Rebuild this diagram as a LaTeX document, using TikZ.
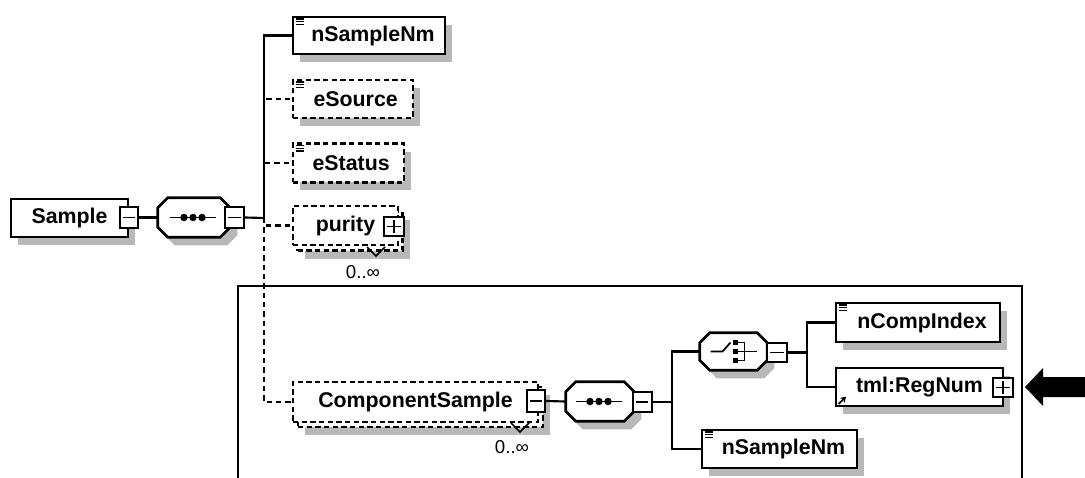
\documentclass[tikz,border=0pt]{standalone}
\usepackage{fontspec}
\newfontfamily\lbl{Liberation Sans}
\usetikzlibrary{shadows,arrows.meta,calc}
\tikzset{
  sh/.style={drop shadow={shadow xshift=5.25pt, shadow yshift=-6pt, fill=black!28, opacity=1}},
  elem/.style={draw, line width=2pt, fill=white, inner sep=0pt, font=\lbl\bfseries\fontsize{16}{19}\selectfont},
  optl/.style={elem, dash pattern=on 4pt off 2.5pt},
  octo/.style={inner sep=0pt},
  octline/.style={draw, line width=2pt, fill=white},
  octshadow/.style={fill=black!28},
  btn/.style={draw, fill=white, line width=1.5pt, inner sep=0pt, minimum width=14pt, minimum height=15pt},
  minusbtn/.style={btn, path picture={\draw[line width=1.2pt] ([xshift=2.5pt]path picture bounding box.west) -- ([xshift=-2.5pt]path picture bounding box.east);}},
  plusbtn/.style={btn, path picture={\draw[line width=1.2pt] ([xshift=2.5pt]path picture bounding box.west) -- ([xshift=-2.5pt]path picture bounding box.east);
     \draw[line width=1.2pt] ([yshift=-2.5pt]path picture bounding box.north) -- ([yshift=2.5pt]path picture bounding box.south);}},
  conn/.style={line width=1.6pt},
  dconn/.style={line width=1.6pt, dash pattern=on 4pt off 3pt},
  card/.style={inner sep=0pt, font=\lbl\fontsize{14}{16}\selectfont},
  icon/.style={line width=0.9pt},
}
\newcommand{\docicon}[1]{\foreach \d in {2.5,4.5,6.5}{\draw[icon] ([xshift=3pt,yshift=-\d pt]#1.north west) -- ++(6pt,0pt);}}
\newcommand{\octpath}[3]{($(#1.north west)+(10+#2,#3)$) -- ($(#1.north east)+(-10+#2,#3)$) -- ($(#1.north east)+(#2,10+#3)$) -- ($(#1.south east)+(#2,-10+#3)$) -- ($(#1.south east)+(-10+#2,#3)$) -- ($(#1.south west)+(10+#2,#3)$) -- ($(#1.south west)+(#2,-10+#3)$) -- ($(#1.north west)+(#2,10+#3)$) -- cycle}
\newcommand{\drawoct}[1]{\fill[octshadow] \octpath{#1}{7}{8}; \path[octline] \octpath{#1}{0}{0};}
\newcommand{\seqicon}[1]{%
  \draw[line width=1.3pt] ($(#1.center)+(-24,0)$) -- ($(#1.center)+(22,0)$);
  \foreach \dx in {-10,-1,8}{\fill ($(#1.center)+(\dx,0)$) circle (2.8pt);}}
\begin{document}
\begin{tikzpicture}[x=0.75pt,y=-0.75pt]
\useasboundingbox (0,0) rectangle (1085,478);

% frame
\draw[line width=1.6pt] (238,478) -- (238,286) -- (1022,286) -- (1022,478);

% --- top part
\node[elem, sh, minimum width=87.75pt, minimum height=28.5pt] (sample) at (69.5,218) {Sample\hspace{8pt}};
\node[minusbtn, minimum width=13.5pt, minimum height=15.75pt] (sbtn) at (129,217.5) {};
\node[octo, minimum width=54pt, minimum height=29.25pt] (seq1) at (194,217.5) {};
\drawoct{seq1}
\seqicon{seq1}
\node[minusbtn, minimum width=14.25pt, minimum height=15.75pt] (seq1btn) at (234.5,217.5) {};
\coordinate (j1) at (264,218);

\node[elem, sh, minimum width=114pt, minimum height=27.75pt] (nsn1) at (369,35.5) {\hspace{6pt}nSampleNm};
\docicon{nsn1}
\node[optl, sh, minimum width=90pt, minimum height=28.5pt] (esrc) at (353,99) {\hspace{4pt}eSource};
\docicon{esrc}
\node[optl, sh, minimum width=83.25pt, minimum height=29pt] (estat) at (348.5,163) {\hspace{4pt}eStatus};
\docicon{estat}

\node[optl, sh, minimum width=78.75pt, minimum height=29.25pt] (pur2) at (350,231) {};
\node[optl, minimum width=78.75pt, minimum height=29.25pt] (pur1) at (345.5,225.5) {purity\hspace{16pt}};
\node[plusbtn, minimum width=15pt, minimum height=14.25pt] (purbtn) at (394,226.5) {};
\draw[line width=1.2pt] (367,247) -- (376,256) -- (385,247);
\node[card] (m1) at (363,272) {0..∞};

\draw[conn] (sbtn.east) -- (seq1.west);
\draw[conn] (seq1btn.east) -- (j1);
\draw[conn] (j1) |- (nsn1.west);
\draw[dconn] (j1) |- (esrc.west);
\draw[dconn] (j1) |- (estat.west);
\draw[dconn] (j1) |- (pur1.west);

% --- framed part
\node[optl, sh, minimum width=183.75pt, minimum height=30pt] (cs2) at (420.5,407) {};
\node[optl, minimum width=183.75pt, minimum height=30pt] (cs1) at (415.5,402) {ComponentSample\hspace{14pt}};
\node[minusbtn, minimum width=13.5pt, minimum height=16.5pt] (csbtn) at (536,401) {};
\draw[line width=1.2pt] (511,423) -- (520,432) -- (529,423);
\node[card] (m2) at (512,447) {0..∞};
\draw[dconn] (j1) |- (cs1.west);

\node[octo, minimum width=51pt, minimum height=29.25pt] (seq2) at (600,401.5) {};
\drawoct{seq2}
\seqicon{seq2}
\node[minusbtn, minimum width=14.25pt, minimum height=15pt] (seq2btn) at (642,402) {};
\draw[conn] (csbtn.east) -- (seq2.west);
\coordinate (j2) at (672,402);
\draw[conn] (seq2btn.east) -- (j2);

\node[octo, minimum width=50.25pt, minimum height=27.75pt] (choice) at (733.5,351.5) {};
\drawoct{choice}
% choice icon
\draw[line width=1.3pt] ($(choice.center)+(-23,0)$) -- ($(choice.center)+(-11,0)$) -- ($(choice.center)+(-3,-9)$);
\foreach \dy in {-9,0,9}{\fill ($(choice.center)+(-1,\dy-2.5)$) rectangle ++(5,5);}
\draw[line width=1.3pt] ($(choice.center)+(4,-9)$) -- ($(choice.center)+(11,-9)$) -- ($(choice.center)+(11,9)$) -- ($(choice.center)+(4,9)$);
\draw[line width=1.3pt] ($(choice.center)+(4,0)$) -- ($(choice.center)+(23,0)$);
\node[minusbtn, minimum width=15pt, minimum height=14.25pt] (choicebtn) at (777,352.5) {};

\node[elem, sh, minimum width=116.25pt, minimum height=28.5pt] (nsn2) at (779.5,449) {\hspace{6pt}nSampleNm};
\docicon{nsn2}
\draw[conn] (j2) |- (choice.west);
\draw[conn] (j2) |- (nsn2.west);

\coordinate (j3) at (807,352.5);
\draw[conn] (choicebtn.east) -- (j3);
\node[elem, sh, minimum width=123pt, minimum height=29.25pt] (nci) at (918,322.5) {\hspace{6pt}nCompIndex};
\docicon{nci}
\node[elem, sh, minimum width=125.25pt, minimum height=28.5pt] (reg) at (919.5,387) {tml:RegNum\hspace{10pt}};
\draw[line width=1.3pt, -{Stealth[length=4pt,width=5pt]}] ([xshift=3pt,yshift=2.5pt]reg.south west) -- ++(5.5pt,5.5pt);
\node[plusbtn, minimum width=15pt, minimum height=14.25pt] (regbtn) at (1003,387.5) {};
\draw[conn] (j3) |- (nci.west);
\draw[conn] (j3) |- (reg.west);

% big arrow
\fill (1025,387) -- (1043,368) -- (1043,377) -- (1085,377) -- (1085,397) -- (1043,397) -- (1043,406) -- cycle;
\end{tikzpicture}
\end{document}
